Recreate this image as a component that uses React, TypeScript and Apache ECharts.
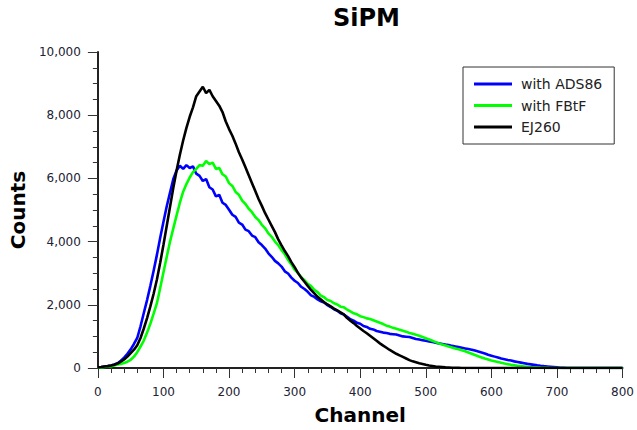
import React, { useEffect, useRef } from 'react';
import * as echarts from 'echarts';

const channels = [
  0, 5, 10, 15, 20, 25, 30, 35, 40, 45, 50, 55, 60, 65, 70, 75, 80, 85, 90, 95,
  100, 105, 110, 115, 120, 125, 130, 135, 140, 145, 150, 155, 160, 165, 170, 175, 180, 185, 190, 195,
  200, 205, 210, 215, 220, 225, 230, 235, 240, 245, 250, 255, 260, 265, 270, 275, 280, 285, 290, 295,
  300, 305, 310, 315, 320, 325, 330, 335, 340, 345, 350, 355, 360, 365, 370, 375, 380, 385, 390, 395,
  400, 405, 410, 415, 420, 425, 430, 435, 440, 445, 450, 455, 460, 465, 470, 475, 480, 485, 490, 495,
  500, 505, 510, 515, 520, 525, 530, 535, 540, 545, 550, 555, 560, 565, 570, 575, 580, 585, 590, 595,
  600, 605, 610, 615, 620, 625, 630, 635, 640, 645, 650, 655, 660, 665, 670, 675, 680, 685, 690, 695,
  700, 705, 710, 715, 720, 725, 730, 735, 740, 745, 750, 755, 760, 765, 770, 775, 780, 785, 790, 795,
  800,
];

const withADS86 = [
  20, 30, 45, 60, 80, 110, 150, 230, 330, 450, 590, 760, 950, 1320, 1740, 2150, 2600, 3080, 3580, 4120,
  4630, 5120, 5550, 5980, 6250, 6400, 6300, 6420, 6330, 6380, 6150, 6080, 5920, 5980, 5720, 5650, 5430, 5480, 5230, 5160,
  5010, 4850, 4780, 4600, 4540, 4380, 4330, 4190, 4140, 3980, 3890, 3780, 3630, 3520, 3390, 3310, 3210, 3060, 2990, 2860,
  2760, 2690, 2570, 2500, 2410, 2300, 2250, 2170, 2110, 2070, 1990, 1930, 1860, 1810, 1730, 1690, 1620, 1540, 1500, 1430,
  1400, 1330, 1300, 1240, 1220, 1170, 1150, 1120, 1110, 1080, 1070, 1060, 1030, 1000, 990, 980, 950, 920, 900, 880,
  860, 840, 820, 800, 780, 760, 740, 730, 700, 680, 660, 640, 620, 600, 580, 550, 520, 490, 460, 420,
  390, 360, 330, 300, 280, 255, 235, 210, 190, 170, 150, 130, 115, 100, 85, 72, 60, 50, 40, 30,
  20, 10, 5, 0, 0, 0, 0, 0, 0, 0, 0, 0, 0, 0, 0, 0, 0, 0, 0, 0,
  0,
];

const withFBtF = [
  10, 20, 30, 45, 60, 80, 110, 130, 160, 200, 260, 360, 500, 680, 870, 1120, 1400, 1720, 2050, 2530,
  3030, 3520, 4000, 4420, 4830, 5230, 5580, 5820, 6030, 6200, 6300, 6420, 6400, 6550, 6450, 6500, 6300, 6330, 6130, 6060,
  5850, 5760, 5570, 5480, 5300, 5190, 5040, 4930, 4780, 4680, 4530, 4420, 4260, 4150, 4000, 3890, 3730, 3600, 3420, 3280,
  3110, 3010, 2870, 2780, 2660, 2590, 2470, 2400, 2290, 2240, 2150, 2120, 2050, 2010, 1940, 1920, 1850, 1790, 1730, 1700,
  1640, 1610, 1570, 1550, 1510, 1470, 1430, 1390, 1340, 1310, 1270, 1240, 1210, 1180, 1150, 1110, 1080, 1050, 1020, 980,
  940, 900, 860, 820, 780, 740, 710, 680, 650, 620, 590, 560, 530, 490, 450, 410, 370, 335, 300, 270,
  240, 215, 190, 165, 140, 120, 100, 85, 70, 60, 50, 40, 32, 25, 18, 12, 8, 4, 0, 0,
  0, 0, 0, 0, 0, 0, 0, 0, 0, 0, 0, 0, 0, 0, 0, 0, 0, 0, 0, 0,
  0,
];

const ej260 = [
  20, 30, 45, 60, 80, 105, 140, 200, 270, 360, 470, 580, 720, 950, 1250, 1580, 1950, 2350, 2800, 3330,
  3900, 4500, 5100, 5700, 6250, 6750, 7200, 7600, 7950, 8250, 8600, 8750, 8900, 8700, 8800, 8600, 8450, 8300, 8100, 7800,
  7560, 7350, 7100, 6830, 6600, 6350, 6100, 5850, 5600, 5350, 5130, 4900, 4700, 4500, 4300, 4070, 3880, 3700, 3540, 3350,
  3190, 3010, 2860, 2730, 2600, 2470, 2360, 2250, 2170, 2080, 2010, 1950, 1880, 1820, 1760, 1700, 1580, 1500, 1420, 1330,
  1250, 1170, 1100, 1020, 940, 860, 780, 710, 640, 570, 510, 450, 400, 350, 300, 250, 210, 180, 150, 125,
  100, 80, 65, 50, 40, 30, 20, 15, 10, 7, 5, 2, 0, 0, 0, 0, 0, 0, 0, 0,
  0, 0, 0, 0, 0, 0, 0, 0, 0, 0, 0, 0, 0, 0, 0, 0, 0, 0, 0, 0,
  0, 0, 0, 0, 0, 0, 0, 0, 0, 0, 0, 0, 0, 0, 0, 0, 0, 0, 0, 0,
  0,
];

const seriesNames = ['with ADS86', 'with FBtF', 'EJ260'];
const seriesColors = ['#0000ff', '#00ff00', '#000000'];

export default function App() {
  const ref = useRef<HTMLDivElement>(null);
  useEffect(() => {
    const chart = echarts.init(ref.current!, null, { renderer: 'svg' });
    const pairs = (vals: number[]) => channels.map((c, i) => [c, vals[i]]);
    const all = [withADS86, withFBtF, ej260];
    const font = 'DejaVu Sans, Verdana, sans-serif';
    chart.setOption({
      animation: false,
      title: {
        text: 'SiPM',
        left: 333,
        top: 6,
        padding: 0,
        textStyle: { fontFamily: font, fontWeight: 'bold', fontSize: 24, color: '#000' },
      },
      legend: {
        orient: 'vertical',
        left: 463,
        top: 67,
        padding: [9, 12, 9, 11],
        itemGap: 5.5,
        itemWidth: 38,
        itemHeight: 3,
        icon: 'rect',
        borderColor: '#333',
        borderWidth: 1,
        backgroundColor: '#fff',
        textStyle: { fontFamily: font, fontSize: 14, color: '#222', lineHeight: 16, padding: [0, 0, 0, 4] },
        data: seriesNames,
      },
      grid: { left: 94, right: 11, top: 52, bottom: 62, containLabel: false },
      xAxis: {
        type: 'value',
        min: 0,
        max: 800,
        interval: 100,
        name: 'Channel',
        nameLocation: 'middle',
        nameGap: 37,
        nameTextStyle: { fontFamily: font, fontWeight: 'bold', fontSize: 20, color: '#000' },
        axisLine: { show: true, lineStyle: { color: '#222', width: 2 } },
        axisTick: { show: true, inside: false, length: 10, lineStyle: { color: '#333', width: 1 } },
        minorTick: { show: true, splitNumber: 5, length: 5, lineStyle: { color: '#333', width: 1 } },
        axisLabel: { fontFamily: font, fontSize: 12, color: '#222233', margin: 18 },
        splitLine: { show: false },
        minorSplitLine: { show: false },
      },
      yAxis: {
        type: 'value',
        min: 0,
        max: 10000,
        interval: 2000,
        name: 'Counts',
        nameLocation: 'middle',
        nameGap: 62,
        nameTextStyle: { fontFamily: font, fontWeight: 'bold', fontSize: 20, color: '#000' },
        axisLine: { show: true, lineStyle: { color: '#222', width: 2 } },
        axisTick: { show: true, inside: false, length: 10, lineStyle: { color: '#333', width: 1 } },
        minorTick: { show: true, splitNumber: 4, length: 5, lineStyle: { color: '#333', width: 1 } },
        axisLabel: {
          fontFamily: font,
          fontSize: 12,
          color: '#222233',
          margin: 17,
          formatter: (v: number) => v.toLocaleString('en-US'),
        },
        splitLine: { show: false },
        minorSplitLine: { show: false },
      },
      series: seriesNames.map((name, k) => ({
        name,
        type: 'line',
        data: pairs(all[k]),
        showSymbol: false,
        symbol: 'none',
        color: seriesColors[k],
        lineStyle: { color: seriesColors[k], width: 2.6 },
        z: 2 + k,
      })),
    });
    return () => chart.dispose();
  }, []);
  return (
    <div
      ref={ref}
      style={{ position: 'fixed', left: 0, top: 0, width: 637, height: 430, background: '#fff' }}
    />
  );
}
